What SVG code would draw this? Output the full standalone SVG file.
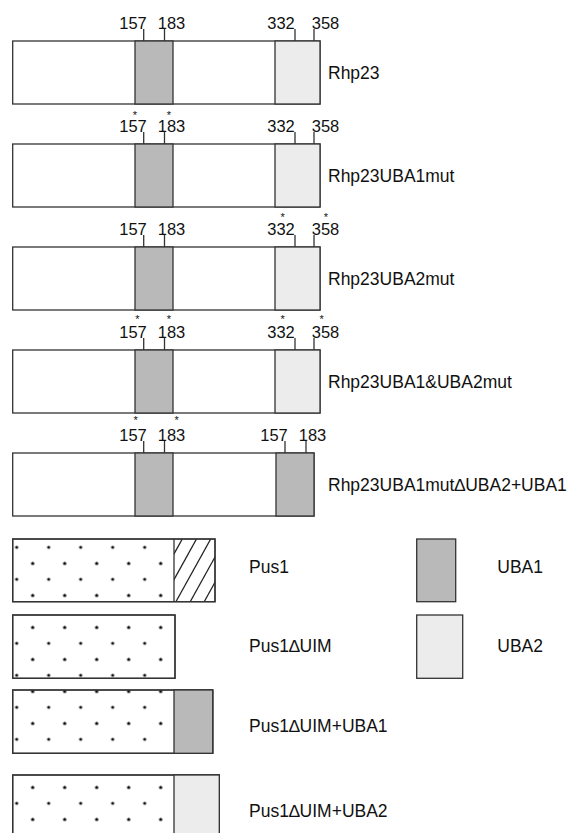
<svg xmlns="http://www.w3.org/2000/svg" width="569" height="833" viewBox="0 0 569 833">
<style>
.bx{fill:#fff;stroke:#333;stroke-width:1.3}
.u1{fill:#b9b9b9;stroke:#333;stroke-width:1.3}
.u2{fill:#ececec;stroke:#333;stroke-width:1.3}
.tk{stroke:#333;stroke-width:1.3}
.num{font-family:"Liberation Sans",Arial,sans-serif;font-size:16.5px;fill:#111;text-anchor:middle}
.ast{font-family:"Liberation Sans",Arial,sans-serif;font-size:11px;fill:#111;text-anchor:middle}
.lbl{font-family:"Liberation Sans",Arial,sans-serif;font-size:17.5px;fill:#111}
.dt{fill:url(#dots);stroke:none}
.hl{stroke:#222;stroke-width:1.3}
</style>
<defs>
<pattern id="dots" patternUnits="userSpaceOnUse" x="-7.3" y="-4.7" width="32" height="32">
<circle cx="24" cy="8" r="1.6" fill="#111"/>
<circle cx="8" cy="24.2" r="1.6" fill="#111"/>
</pattern>
<clipPath id="hclip"><rect x="174" y="539" width="41" height="62.7"/></clipPath>
</defs>
<rect width="569" height="833" fill="#fff"/>

<g id="rhp23">
<rect class="bx" x="12.7" y="41" width="307.3" height="63"/>
<rect class="u1" x="135" y="41" width="38" height="63"/>
<rect class="u2" x="275" y="41" width="45" height="63"/>
<line class="tk" x1="143.7" y1="29" x2="143.7" y2="41"/><line class="tk" x1="164.5" y1="29" x2="164.5" y2="41"/>
<line class="tk" x1="295" y1="29" x2="295" y2="41"/><line class="tk" x1="314" y1="29" x2="314" y2="41"/>
<text class="num" x="133" y="28.5">157</text><text class="num" x="171.5" y="28.5">183</text>
<text class="num" x="281" y="28.5">332</text><text class="num" x="325.5" y="28.5">358</text>
<text class="lbl" x="328" y="78.5">Rhp23</text>
</g>

<g id="rhp23uba1mut">
<rect class="bx" x="12.7" y="144" width="307.3" height="63"/>
<rect class="u1" x="135" y="144" width="38" height="63"/>
<rect class="u2" x="275" y="144" width="45" height="63"/>
<line class="tk" x1="143.7" y1="132" x2="143.7" y2="144"/><line class="tk" x1="164.5" y1="132" x2="164.5" y2="144"/>
<line class="tk" x1="295" y1="132" x2="295" y2="144"/><line class="tk" x1="314" y1="132" x2="314" y2="144"/>
<text class="ast" x="135" y="118.5">*</text><text class="ast" x="169" y="118.5">*</text>
<text class="num" x="133" y="131.5">157</text><text class="num" x="171.5" y="131.5">183</text>
<text class="num" x="281" y="131.5">332</text><text class="num" x="325.5" y="131.5">358</text>
<text class="lbl" x="328" y="181.5">Rhp23UBA1mut</text>
</g>

<g id="rhp23uba2mut">
<rect class="bx" x="12.7" y="247" width="307.3" height="63"/>
<rect class="u1" x="135" y="247" width="38" height="63"/>
<rect class="u2" x="275" y="247" width="45" height="63"/>
<line class="tk" x1="143.7" y1="235" x2="143.7" y2="247"/><line class="tk" x1="164.5" y1="235" x2="164.5" y2="247"/>
<line class="tk" x1="295" y1="235" x2="295" y2="247"/><line class="tk" x1="314" y1="235" x2="314" y2="247"/>
<text class="ast" x="282.7" y="220.5">*</text><text class="ast" x="326" y="220.5">*</text>
<text class="num" x="133" y="234.5">157</text><text class="num" x="171.5" y="234.5">183</text>
<text class="num" x="281" y="234.5">332</text><text class="num" x="325.5" y="234.5">358</text>
<text class="lbl" x="328" y="284.5">Rhp23UBA2mut</text>
</g>

<g id="rhp23uba1uba2mut">
<rect class="bx" x="12.7" y="350" width="307.3" height="63"/>
<rect class="u1" x="135" y="350" width="38" height="63"/>
<rect class="u2" x="275" y="350" width="45" height="63"/>
<line class="tk" x1="143.7" y1="338" x2="143.7" y2="350"/><line class="tk" x1="164.5" y1="338" x2="164.5" y2="350"/>
<line class="tk" x1="295" y1="338" x2="295" y2="350"/><line class="tk" x1="314" y1="338" x2="314" y2="350"/>
<text class="ast" x="137.3" y="322.5">*</text><text class="ast" x="169" y="322.5">*</text>
<text class="ast" x="282.7" y="322.5">*</text><text class="ast" x="321.7" y="322.5">*</text>
<text class="num" x="133" y="337.5">157</text><text class="num" x="171.5" y="337.5">183</text>
<text class="num" x="281" y="337.5">332</text><text class="num" x="325.5" y="337.5">358</text>
<text class="lbl" x="328" y="387.5">Rhp23UBA1&amp;UBA2mut</text>
</g>

<g id="rhp23uba1mutduba2uba1">
<rect class="bx" x="12.7" y="453" width="301.3" height="63"/>
<rect class="u1" x="135" y="453" width="38" height="63"/>
<rect class="u1" x="276" y="453" width="38" height="63"/>
<line class="tk" x1="143.7" y1="441" x2="143.7" y2="453"/><line class="tk" x1="164.5" y1="441" x2="164.5" y2="453"/>
<line class="tk" x1="285" y1="441" x2="285" y2="453"/><line class="tk" x1="306" y1="441" x2="306" y2="453"/>
<text class="ast" x="135.7" y="423.5">*</text><text class="ast" x="176.7" y="423.5">*</text>
<text class="num" x="133" y="440.5">157</text><text class="num" x="171.5" y="440.5">183</text>
<text class="num" x="274" y="440.5">157</text><text class="num" x="312.5" y="440.5">183</text>
<text class="lbl" x="328" y="490.5">Rhp23UBA1mut∆UBA2+UBA1</text>
</g>

<g id="pus1">
<rect class="bx" x="12.7" y="539" width="202.3" height="62.7"/>
<rect class="dt" x="12.7" y="539" width="161.3" height="62.7"/>
<g clip-path="url(#hclip)">
<line class="hl" x1="168" y1="539" x2="133.2" y2="601.7"/>
<line class="hl" x1="182.3" y1="539" x2="147.5" y2="601.7"/>
<line class="hl" x1="196.5" y1="539" x2="161.7" y2="601.7"/>
<line class="hl" x1="210.7" y1="539" x2="175.9" y2="601.7"/>
<line class="hl" x1="225" y1="539" x2="190.2" y2="601.7"/>
<line class="hl" x1="239" y1="539" x2="204.2" y2="601.7"/>
</g>
<rect x="12.7" y="539" width="202.3" height="62.7" fill="none" stroke="#333" stroke-width="1.3"/>
<line class="tk" x1="174" y1="539" x2="174" y2="601.7"/>
<text class="lbl" x="249" y="573">Pus1</text>
</g>

<g id="pus1duim">
<rect class="bx" x="12.7" y="615" width="162.3" height="63.3"/>
<rect class="dt" x="12.7" y="615" width="162.3" height="63.3"/>
<rect x="12.7" y="615" width="162.3" height="63.3" fill="none" stroke="#333" stroke-width="1.3"/>
<text class="lbl" x="249" y="651.7">Pus1∆UIM</text>
</g>

<g id="pus1duimuba1">
<rect class="bx" x="12.7" y="690" width="200" height="63.3"/>
<rect class="dt" x="12.7" y="690" width="161.3" height="63.3"/>
<rect x="12.7" y="690" width="200" height="63.3" fill="none" stroke="#333" stroke-width="1.3"/>
<rect class="u1" x="174" y="690" width="38.7" height="63.3"/>
<text class="lbl" x="249" y="731.7">Pus1∆UIM+UBA1</text>
</g>

<g id="pus1duimuba2">
<rect class="bx" x="12.7" y="775" width="206.6" height="70"/>
<rect class="dt" x="12.7" y="775" width="161.3" height="70"/>
<rect x="12.7" y="775" width="206.6" height="70" fill="none" stroke="#333" stroke-width="1.3"/>
<rect class="u2" x="174" y="775" width="45.3" height="70"/>
<text class="lbl" x="249" y="816.7">Pus1∆UIM+UBA2</text>
</g>

<g id="legend-uba1">
<rect class="u1" x="416.7" y="539" width="39" height="62.7"/>
<text class="lbl" x="497.3" y="573.3">UBA1</text>
</g>
<g id="legend-uba2">
<rect class="u2" x="416.7" y="615" width="46" height="63.3"/>
<text class="lbl" x="497.3" y="651.7">UBA2</text>
</g>
<g id="connectors"/>
</svg>
